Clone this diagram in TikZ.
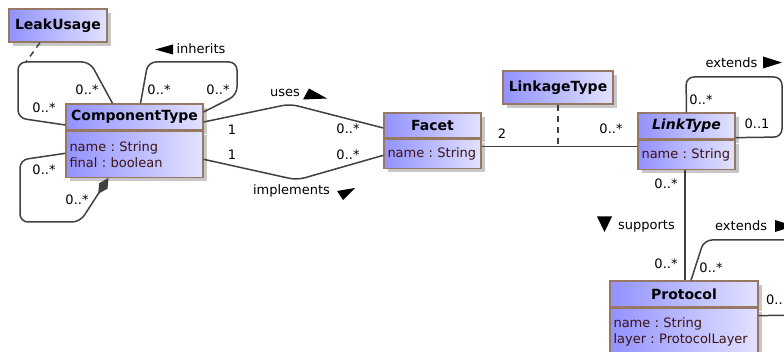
\documentclass[tikz,border=0pt]{standalone}
\usepackage{fontspec}
\setmainfont{DejaVu Sans}
\usetikzlibrary{arrows.meta,shadows,positioning}
\definecolor{umlborder}{RGB}{150,120,100}
\definecolor{umlleft}{RGB}{146,146,255}
\definecolor{umlright}{RGB}{226,226,255}
\definecolor{umlline}{RGB}{64,64,64}
\definecolor{umltext}{RGB}{60,20,20}
\tikzset{classbox/.style={rectangle, draw=umlborder, line width=1.3pt, left color=umlleft, right color=umlright, inner sep=0pt, drop shadow={shadow xshift=4pt, shadow yshift=-4pt, fill=black!22, opacity=1}},
classhead/.style={classbox, font=\fontsize{14}{16}\selectfont\bfseries},
classattr/.style={classbox, font=\fontsize{13}{16}\selectfont, text=umltext, align=left, inner xsep=3.5pt},
assoc/.style={draw=umlline, line width=1.5pt, rounded corners=8pt},
linkdash/.style={draw=umlline, line width=1.5pt, dash pattern=on 6pt off 5pt},
mult/.style={font=\fontsize{13}{15}\selectfont, inner sep=0pt},
dirmark/.style={fill=black}}

\begin{document}
\begin{tikzpicture}[x=1pt, y=-1pt]

\useasboundingbox (0,0) rectangle (784,352);
\clip (0,0) rectangle (784,352);

\node(leak) at (58,25.5) [classhead, minimum width=98pt, minimum height=33pt] {LeakUsage};
\node(cthead) at (134.5,117) [classhead, minimum width=137pt, minimum height=26pt] {ComponentType};
\node(ctattr) [classattr, below=0pt of cthead, text width=130pt, minimum height=46pt] {name~:~String\\final~:~boolean};
\node(facethead) at (432.5,125.5) [classhead, minimum width=97pt, minimum height=25pt] {Facet};
\node(facetattr) [classattr, below=0pt of facethead, text width=90pt, minimum height=29pt] {name~:~String};
\node(linkage) at (558,87.5) [classhead, minimum width=110pt, minimum height=33pt] {LinkageType};
\node(lthead) at (686.5,126) [classhead, minimum width=97pt, minimum height=26pt] {\itshape LinkType};
\node(ltattr) [classattr, below=0pt of lthead, text width=90pt, minimum height=29pt] {name~:~String};
\node(prothead) at (684,294) [classhead, minimum width=148pt, minimum height=26pt] {Protocol};
\node(protattr) [classattr, below=0pt of prothead, text width=141pt, minimum height=48pt] {name~:~String\\layer~:~ProtocolLayer};

\coordinate(leakjoin) at (26,62);
\draw[assoc] ([yshift=-8pt]cthead.west) -- (18,118) -- (18,62) -- (90,62) -- ([xshift=-22pt]cthead.north);
\draw[linkdash] ([xshift=-18pt]leak.south) -- (leakjoin);
\draw[assoc] ([xshift=6pt]cthead.north) -- (148,62) -- (237,62) -- (237,95) -- ([yshift=5pt]cthead.east);
\draw[assoc, {Diamond[length=19pt,width=10pt]}-] ([xshift=-26pt]ctattr.south) -- (80,222) -- (20,222) -- (20,160) -- ([yshift=1pt]ctattr.west);
\draw[assoc] ([yshift=-5pt]cthead.east) -- (290,104) -- ([yshift=-2.5pt]facethead.west);
\draw[assoc] ([yshift=-5pt]ctattr.east) -- (297,180) -- ([yshift=-1.5pt]facetattr.west);
\draw[assoc] ([yshift=7.5pt]facetattr.east) coordinate(fl) -- (fl -| ltattr.west);
\draw[linkdash] (linkage.south) -- (linkage.south |- fl);
\draw[assoc] (lthead.north) -- (686,77) -- (782,77) -- (782,137) -- ([yshift=2pt]lthead.south east);
\draw[assoc] ([xshift=-1.5pt]ltattr.south) -- ([xshift=1pt]prothead.north);
\draw[assoc] ([xshift=7pt]prothead.north) -- (704,240) -- (800,240) -- (800,315) -- ([yshift=-8pt]protattr.north east);

\node(m1) at (87,90) [mult] {0..*};
\node(m2) at (44,108) [mult] {0..*};
\node(m3) at (159,90) [mult] {0..*};
\node(m4) at (218,90) [mult] {0..*};
\node(inh) at (201,49) [mult] {inherits};
\fill[dirmark] (155,49.5) -- (173,44.5) -- (173,54.5) -- cycle;
\node(m5) at (44,170) [mult] {0..*};
\node(m6) at (77,200) [mult] {0..*};
\node(uses) at (285,93) [mult] {uses};
\fill[dirmark] (309,88.5) -- (327,98.5) -- (303,99.5) -- cycle;
\node(m7) at (232,130) [mult] {1};
\node(m8) at (348,129) [mult] {0..*};
\node(m9) at (232,155) [mult] {1};
\node(m10) at (348,155) [mult] {0..*};
\node(impl) at (291.5,191) [mult] {implements};
\fill[dirmark] (337,191) -- (355,188) -- (343,200) -- cycle;
\node(m11) at (502,134) [mult] {2};
\node(m12) at (611,129) [mult] {0..*};
\node(m13) at (701,100) [mult] {0..*};
\node(m14) at (757,124) [mult] {0..1};
\node(ext1) at (731.5,63) [mult] {extends};
\fill[dirmark] (763,56.5) -- (782,62.5) -- (763,68.5) -- cycle;
\node(m15) at (666,184) [mult] {0..*};
\node(m16) at (666,264) [mult] {0..*};
\node(sup) at (646.5,226) [mult] {supports};
\fill[dirmark] (597,216.5) -- (612,216.5) -- (604.5,232) -- cycle;
\node(m17) at (711,268) [mult] {0..*};
\node(ext2) at (715,226) [mult, anchor=west] {extends};
\fill[dirmark] (775,220) -- (794,226) -- (775,232) -- cycle;
\node(m18) at (766,300) [mult, anchor=west] {0..1};

\end{tikzpicture}
\end{document}
